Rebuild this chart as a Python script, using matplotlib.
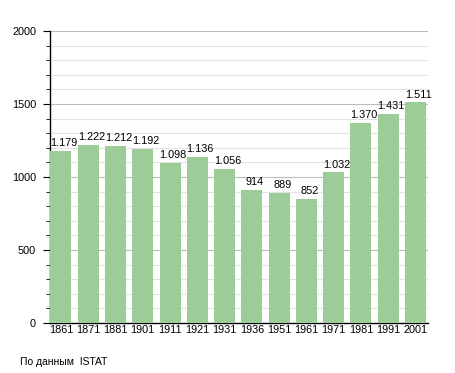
import matplotlib.pyplot as plt
from matplotlib.ticker import MultipleLocator

years = ['1861', '1871', '1881', '1901', '1911', '1921', '1931',
         '1936', '1951', '1961', '1971', '1981', '1991', '2001']
population = [1179, 1222, 1212, 1192, 1098, 1136, 1056,
              914, 889, 852, 1032, 1370, 1431, 1511]

plt.rcParams['font.family'] = ['Liberation Sans', 'DejaVu Sans']

fig = plt.figure(figsize=(4.55, 3.73), dpi=100)
ax = fig.add_axes([50 / 455, 50 / 373, 378 / 455, 292 / 373])

x = range(len(years))
ax.bar(x, population, width=0.77, color='#9ccc98', zorder=3)

# value labels, Italian style thousands separator
for xi, v in zip(x, population):
    label = f'{v:,}'.replace(',', '.')
    ax.annotate(label, (xi, v), xytext=(2.2, 2), textcoords='offset points',
                ha='center', va='bottom', fontsize=7.8, zorder=4)

ax.set_ylim(0, 2000)
ax.set_xlim(-0.4, 13.46)
ax.yaxis.set_major_locator(MultipleLocator(500))
ax.yaxis.set_minor_locator(MultipleLocator(100))
ax.grid(axis='y', which='major', color='#bbbbbb', linewidth=0.8, zorder=0)
ax.grid(axis='y', which='minor', color='#e3e3e3', linewidth=0.8, zorder=0)

ax.set_xticks(list(x))
ax.set_xticklabels(years)
ax.tick_params(axis='x', length=0, labelsize=7.8, pad=1.5)
ax.tick_params(axis='y', which='major', length=5, labelsize=7.8, pad=5)
ax.tick_params(axis='y', which='minor', length=3)

for s in ['top', 'right']:
    ax.spines[s].set_visible(False)
ax.spines['left'].set_linewidth(1.0)
ax.spines['bottom'].set_linewidth(1.0)

fig.text(20 / 455, 1 - 362 / 373, 'По данным  ISTAT', fontsize=7.5, va='center')

fig.savefig('out.png', dpi=100)
